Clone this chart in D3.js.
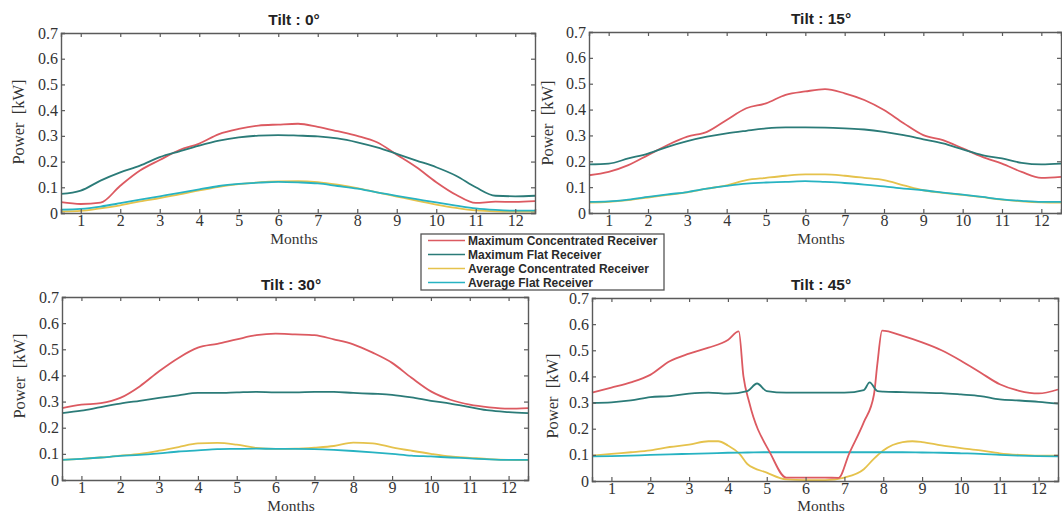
<!DOCTYPE html>
<html>
<head>
<meta charset="utf-8">
<script src="https://d3js.org/d3.v7.min.js"></script>
<style>
  body { margin: 0; background: #fff; }
  svg { display: block; }
</style>
</head>
<body>
<div id="container"></div>
<script>
// set the dimensions of the page
var width = 1062,
  height = 515;

// month grid shared by most series
const months = [0.5, 1, 1.5, 2, 2.5, 3, 3.5, 4, 4.5, 5, 5.5, 6, 6.5, 7, 7.5, 8, 8.5, 9, 9.5, 10, 10.5, 11, 11.5, 12, 12.5];
const monthTicks = [1, 2, 3, 4, 5, 6, 7, 8, 9, 10, 11, 12];
const powerTicks = [0, 0.1, 0.2, 0.3, 0.4, 0.5, 0.6, 0.7];

const seriesNames = ["Maximum Concentrated Receiver", "Maximum Flat Receiver", "Average Concentrated Receiver", "Average Flat Receiver"];
const seriesColors = ["#dc5a61", "#2b7b78", "#e5c24c", "#27b3c2"];

// tilt 0
const tilt0MaxConc = [0.042, 0.035, 0.04, 0.106, 0.165, 0.206, 0.245, 0.27, 0.307, 0.327, 0.34, 0.344, 0.347, 0.335, 0.318, 0.3, 0.275, 0.227, 0.178, 0.12, 0.071, 0.039, 0.044, 0.043, 0.046];
const tilt0MaxFlat = [0.074, 0.087, 0.126, 0.158, 0.184, 0.217, 0.24, 0.262, 0.281, 0.294, 0.301, 0.303, 0.301, 0.298, 0.29, 0.275, 0.255, 0.23, 0.204, 0.178, 0.145, 0.1, 0.067, 0.065, 0.067];
const tilt0AvgConc = [0.006, 0.008, 0.018, 0.03, 0.045, 0.058, 0.072, 0.088, 0.102, 0.112, 0.119, 0.123, 0.124, 0.12, 0.11, 0.097, 0.08, 0.064, 0.048, 0.033, 0.02, 0.01, 0.006, 0.005, 0.005];
const tilt0AvgFlat = [0.013, 0.016, 0.025, 0.038, 0.052, 0.065, 0.078, 0.092, 0.105, 0.113, 0.118, 0.121, 0.119, 0.115, 0.105, 0.095, 0.08, 0.067, 0.054, 0.041, 0.029, 0.018, 0.012, 0.009, 0.009];

// tilt 15
const tilt15MaxConc = [0.146, 0.159, 0.185, 0.224, 0.263, 0.295, 0.314, 0.36, 0.405, 0.424, 0.457, 0.47, 0.479, 0.463, 0.437, 0.398, 0.347, 0.301, 0.282, 0.25, 0.217, 0.191, 0.159, 0.136, 0.14];
const tilt15MaxFlat = [0.188, 0.191, 0.211, 0.23, 0.256, 0.278, 0.295, 0.308, 0.318, 0.327, 0.331, 0.331, 0.33, 0.327, 0.323, 0.314, 0.301, 0.285, 0.269, 0.246, 0.224, 0.211, 0.194, 0.188, 0.191];
const tilt15AvgConc = [0.04, 0.043, 0.05, 0.06, 0.07, 0.08, 0.094, 0.107, 0.127, 0.136, 0.144, 0.149, 0.149, 0.144, 0.136, 0.127, 0.107, 0.088, 0.078, 0.07, 0.061, 0.052, 0.045, 0.041, 0.04];
const tilt15AvgFlat = [0.043, 0.045, 0.052, 0.062, 0.072, 0.081, 0.094, 0.105, 0.114, 0.118, 0.12, 0.123, 0.12, 0.116, 0.11, 0.103, 0.094, 0.088, 0.079, 0.071, 0.062, 0.053, 0.047, 0.043, 0.043];

// tilt 30
const tilt30MaxConc = [0.275, 0.288, 0.294, 0.314, 0.358, 0.416, 0.467, 0.506, 0.521, 0.538, 0.554, 0.56, 0.557, 0.554, 0.538, 0.519, 0.487, 0.448, 0.391, 0.339, 0.307, 0.288, 0.278, 0.273, 0.275];
const tilt30MaxFlat = [0.256, 0.265, 0.279, 0.292, 0.303, 0.314, 0.324, 0.333, 0.333, 0.335, 0.337, 0.335, 0.335, 0.337, 0.337, 0.333, 0.33, 0.326, 0.316, 0.303, 0.292, 0.279, 0.266, 0.26, 0.256];
const tilt30AvgConc = [0.077, 0.081, 0.086, 0.093, 0.1, 0.112, 0.126, 0.14, 0.142, 0.135, 0.123, 0.119, 0.12, 0.124, 0.13, 0.143, 0.14, 0.125, 0.112, 0.1, 0.09, 0.085, 0.08, 0.077, 0.076];
const tilt30AvgFlat = [0.077, 0.081, 0.086, 0.092, 0.096, 0.102, 0.109, 0.113, 0.118, 0.119, 0.12, 0.119, 0.119, 0.118, 0.115, 0.111, 0.106, 0.1, 0.093, 0.09, 0.086, 0.083, 0.079, 0.077, 0.077];

// tilt 45 (own month points, the curves have sharp corners)
const tilt45MaxConcMonths = [0.5, 1, 1.5, 2, 2.5, 3, 3.5, 4, 4.28, 4.4, 4.55, 5.1, 5.5, 6, 6.5, 6.85, 7.12, 7.5, 7.76, 7.85, 7.97, 8.5, 9, 9.5, 10, 10.5, 11, 11.5, 12, 12.5];
const tilt45MaxConc = [0.338, 0.357, 0.377, 0.406, 0.458, 0.487, 0.51, 0.539, 0.572, 0.4, 0.3, 0.104, 0.013, 0.013, 0.013, 0.012, 0.104, 0.225, 0.33, 0.45, 0.575, 0.555, 0.53, 0.5, 0.46, 0.415, 0.37, 0.345, 0.335, 0.35];
const tilt45MaxFlatMonths = [0.5, 1, 1.5, 2, 2.5, 3, 3.5, 4, 4.5, 4.75, 5, 5.5, 6, 6.5, 7, 7.5, 7.65, 7.85, 8, 8.5, 9, 9.5, 10, 10.5, 11, 11.5, 12, 12.5];
const tilt45MaxFlat = [0.299, 0.301, 0.308, 0.321, 0.325, 0.334, 0.338, 0.334, 0.344, 0.373, 0.344, 0.338, 0.338, 0.338, 0.338, 0.348, 0.377, 0.344, 0.342, 0.34, 0.338, 0.336, 0.331, 0.325, 0.312, 0.308, 0.303, 0.296];
const tilt45AvgConcMonths = [0.5, 1, 1.5, 2, 2.5, 3, 3.5, 3.75, 4, 4.3, 4.5, 5, 5.5, 6, 6.5, 7, 7.5, 7.75, 8, 8.5, 8.75, 9, 9.5, 10, 10.5, 11, 11.5, 12, 12.5];
const tilt45AvgConc = [0.097, 0.104, 0.11, 0.117, 0.13, 0.139, 0.152, 0.152, 0.136, 0.104, 0.065, 0.032, 0.006, 0.003, 0.003, 0.013, 0.045, 0.084, 0.117, 0.149, 0.152, 0.149, 0.136, 0.126, 0.117, 0.106, 0.1, 0.097, 0.097];
const tilt45AvgFlat = [0.094, 0.095, 0.097, 0.1, 0.102, 0.104, 0.106, 0.108, 0.109, 0.11, 0.11, 0.11, 0.11, 0.11, 0.11, 0.11, 0.11, 0.109, 0.108, 0.106, 0.104, 0.1, 0.097, 0.095, 0.094];

const zip = (xs, ys) => xs.map((x, i) => ({ month: x, power: ys[i] }));

const panels = [
  { title: "Tilt : 0°", x0: 61, x1: 535, y0: 33, y1: 213, ylab: [19, 122], ttl: 25, mlab: 244,
    series: [zip(months, tilt0MaxConc), zip(months, tilt0MaxFlat), zip(months, tilt0AvgConc), zip(months, tilt0AvgFlat)] },
  { title: "Tilt : 15°", x0: 589, x1: 1061, y0: 32, y1: 213, ylab: [548, 123], ttl: 24, mlab: 244,
    series: [zip(months, tilt15MaxConc), zip(months, tilt15MaxFlat), zip(months, tilt15AvgConc), zip(months, tilt15AvgFlat)] },
  { title: "Tilt : 30°", x0: 62, x1: 528, y0: 297, y1: 480, ylab: [20, 376], ttl: 290, mlab: 511,
    series: [zip(months, tilt30MaxConc), zip(months, tilt30MaxFlat), zip(months, tilt30AvgConc), zip(months, tilt30AvgFlat)] },
  { title: "Tilt : 45°", x0: 592, x1: 1058, y0: 298, y1: 481, ylab: [553, 396], ttl: 290, mlab: 511,
    series: [zip(tilt45MaxConcMonths, tilt45MaxConc), zip(tilt45MaxFlatMonths, tilt45MaxFlat), zip(tilt45AvgConcMonths, tilt45AvgConc), zip(months, tilt45AvgFlat)] }
];

const svg = d3
  .select("#container")
  .append("svg")
  .attr("width", width)
  .attr("height", height);

const serif = "'Liberation Serif', 'Times New Roman', serif";
const sans = "'Liberation Sans', Arial, sans-serif";

const drawPanel = p => {
  const x = d3.scaleLinear().domain([0.5, 12.5]).range([p.x0, p.x1]);
  const y = d3.scaleLinear().domain([0, 0.7]).range([p.y1, p.y0]);
  const g = svg.append("g");

  // curves
  const line = d3
    .line()
    .x(d => x(d.month))
    .y(d => y(d.power))
    .curve(d3.curveMonotoneX);

  // draw order: avg conc, avg flat, max conc, max flat
  [2, 3, 0, 1].forEach(i => {
    g.append("path")
      .datum(p.series[i])
      .attr("d", line)
      .attr("fill", "none")
      .attr("stroke", seriesColors[i])
      .attr("stroke-width", 1.8);
  });

  // axes with inward ticks, matlab style
  const fmt = d => (d === 0 ? "0" : d.toFixed(1));
  const axes = [
    [d3.axisBottom(x).tickValues(monthTicks).tickSize(-4).tickPadding(2), `translate(0,${p.y1})`],
    [d3.axisTop(x).tickValues(monthTicks).tickSize(-4).tickFormat(""), `translate(0,${p.y0})`],
    [d3.axisLeft(y).tickValues(powerTicks).tickSize(-4).tickPadding(3).tickFormat(fmt), `translate(${p.x0},0)`],
    [d3.axisRight(y).tickValues(powerTicks).tickSize(-4).tickFormat(""), `translate(${p.x1},0)`]
  ];
  axes.forEach(a => {
    const ax = g.append("g").attr("transform", a[1]).call(a[0]);
    ax.select(".domain").attr("stroke", "#5a5a5a").attr("stroke-width", 1.4);
    ax.selectAll(".tick line").attr("stroke", "#5a5a5a").attr("stroke-width", 1.2);
    ax.selectAll(".tick text")
      .attr("font-family", serif)
      .attr("font-size", "16px")
      .attr("fill", "#333");
  });

  // title
  g.append("text")
    .text(p.title)
    .attr("x", (p.x0 + p.x1) / 2 - 4)
    .attr("y", p.ttl)
    .attr("text-anchor", "middle")
    .attr("font-family", sans)
    .attr("font-weight", "bold")
    .attr("font-size", "15.5px")
    .attr("fill", "#222");

  // axis labels
  g.append("text")
    .text("Months")
    .attr("x", (p.x0 + p.x1) / 2 - 4)
    .attr("y", p.mlab)
    .attr("text-anchor", "middle")
    .attr("font-family", serif)
    .attr("font-size", "15.5px")
    .attr("fill", "#333");

  g.append("text")
    .text("Power  [kW]")
    .attr("transform", `translate(${p.ylab[0] + 5},${p.ylab[1]}) rotate(-90)`)
    .attr("text-anchor", "middle")
    .attr("font-family", serif)
    .attr("font-size", "16.5px")
    .attr("fill", "#333")
    .style("white-space", "pre");
};

panels.forEach(drawPanel);

// legend
const legend = svg.append("g").attr("id", "legend").attr("transform", "translate(421,234)");

legend
  .append("rect")
  .attr("width", 243)
  .attr("height", 56)
  .attr("fill", "#fff")
  .attr("stroke", "#555")
  .attr("stroke-width", 1.3);

seriesNames.forEach((name, i) => {
  const row = legend.append("g").attr("transform", `translate(0,${6.5 + i * 14})`);
  row.append("line")
    .attr("x1", 7)
    .attr("x2", 44)
    .attr("stroke", seriesColors[i])
    .attr("stroke-width", 1.5);
  row.append("text")
    .text(name)
    .attr("x", 47)
    .attr("dy", "0.35em")
    .attr("font-family", sans)
    .attr("font-size", "12px")
    .attr("font-weight", "bold")
    .attr("fill", "#2a2a2a");
});
</script>
</body>
</html>
